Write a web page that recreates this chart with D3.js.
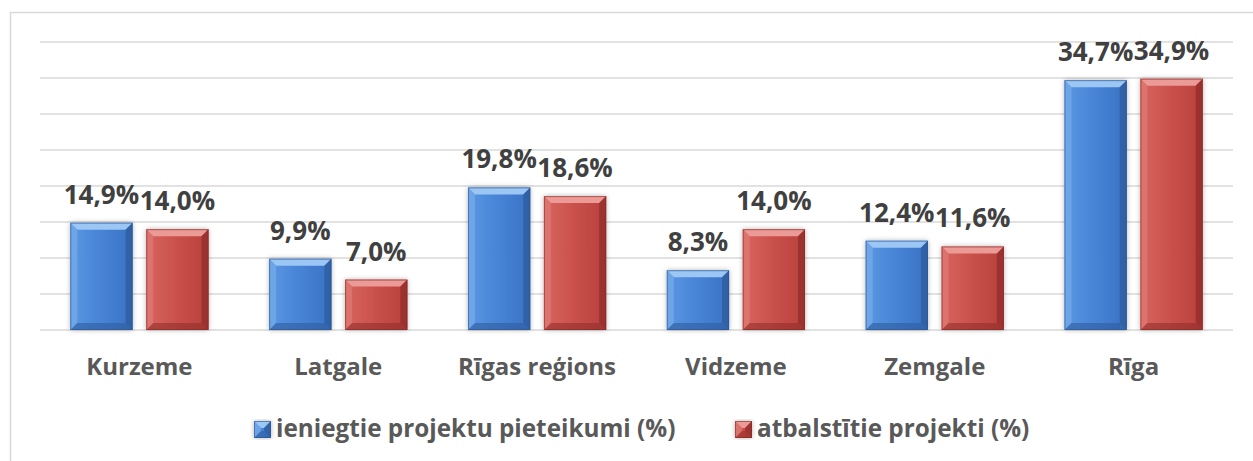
<!DOCTYPE html>
<html><head><meta charset="utf-8">
<script src="https://cdn.jsdelivr.net/npm/d3@7"></script>
<style>
html,body{margin:0;padding:0;background:#fff;}
svg{display:block;font-family:"Open Sans",sans-serif;}
</style></head>
<body><svg id="chart" width="1253" height="461"></svg>
<script>
const categories = ["Kurzeme","Latgale","Rīgas reģions","Vidzeme","Zemgale","Rīga"];
const seriesNames = ["ieniegtie projektu pieteikumi (%)","atbalstītie projekti (%)"];
const submitted = [14.9, 9.9, 19.8, 8.3, 12.4, 34.7];
const supported = [14.0, 7.0, 18.6, 14.0, 11.6, 34.9];
const yTicks = [0,5,10,15,20,25,30,35,40];

const svg = d3.select("#chart");
const defs = svg.append("defs");
const palettes = [
  {id:"b", main:["#5a97e2","#4783d6","#3a72c2"], top:"#9cc6f4", left:"#78acea", right:"#2c5a9a", bottom:"#2e5e9e", edge:"#2a5590"},
  {id:"r", main:["#d86560","#c9504b","#b8403c"], top:"#ec9a96", left:"#de7a75", right:"#8e2c29", bottom:"#932e2b", edge:"#852a27"}
];
palettes.forEach(p=>{
  const g = defs.append("linearGradient").attr("id","g"+p.id).attr("x1",0).attr("x2",1).attr("y1",0).attr("y2",0);
  g.append("stop").attr("offset","0%").attr("stop-color",p.main[0]);
  g.append("stop").attr("offset","50%").attr("stop-color",p.main[1]);
  g.append("stop").attr("offset","100%").attr("stop-color",p.main[2]);
});
const f = defs.append("filter").attr("id","sh").attr("x","-20%").attr("y","-10%").attr("width","140%").attr("height","120%");
f.append("feDropShadow").attr("dx",0).attr("dy",0).attr("stdDeviation",2.5).attr("flood-color","#000").attr("flood-opacity",0.3);

// outer border
svg.append("path").attr("d","M10.5,470 L10.5,12.5 L1260,12.5").attr("fill","none").attr("stroke","#d9d9d9").attr("stroke-width",1.5);

const x = d3.scaleBand().domain(categories).range([40,1233]).paddingInner(0.305).paddingOuter(0.1525);
const y = d3.scaleLinear().domain([0,40]).range([330,42]);
const xs = d3.scaleBand().domain([0,1]).range([0,x.bandwidth()]).paddingInner(0.18);

// gridlines
svg.append("g").selectAll("line").data(yTicks).join("line")
  .attr("x1",40).attr("x2",1233).attr("y1",d=>y(d)).attr("y2",d=>y(d))
  .attr("stroke","#d9d9d9").attr("stroke-width",1.5);

// x axis labels
svg.append("g").selectAll("text").data(categories).join("text")
  .attr("x",d=>x(d)+x.bandwidth()/2).attr("y",375)
  .attr("text-anchor","middle").attr("font-size",24).attr("font-weight",700).attr("fill","#595959")
  .text(d=>d);

function bevelBar(g, x0, y0, w, h, p){
  const b = Math.min(7, h/2);
  g.append("rect").attr("x",x0).attr("y",y0).attr("width",w).attr("height",h).attr("fill","url(#g"+p.id+")").attr("filter","url(#sh)");
  g.append("polygon").attr("points",[[x0,y0],[x0+w,y0],[x0+w-b,y0+b],[x0+b,y0+b]].join(" ")).attr("fill",p.top);
  g.append("polygon").attr("points",[[x0,y0],[x0+b,y0+b],[x0+b,y0+h-b],[x0,y0+h]].join(" ")).attr("fill",p.left).attr("opacity",0.7);
  g.append("polygon").attr("points",[[x0+w,y0],[x0+w-b,y0+b],[x0+w-b,y0+h-b],[x0+w,y0+h]].join(" ")).attr("fill",p.right).attr("opacity",0.7);
  g.append("polygon").attr("points",[[x0,y0+h],[x0+b,y0+h-b],[x0+w-b,y0+h-b],[x0+w,y0+h]].join(" ")).attr("fill",p.bottom).attr("opacity",0.6);
  g.append("rect").attr("x",x0+0.5).attr("y",y0+0.5).attr("width",w-1).attr("height",h-1).attr("fill","none").attr("stroke",p.edge).attr("stroke-opacity",0.6).attr("stroke-width",1);
}

const series = [submitted, supported];
const barsG = svg.append("g");
series.forEach((vals,si)=>{
  vals.forEach((v,i)=>{
    const bx = x(categories[i]) + xs(si);
    const g = barsG.append("g");
    bevelBar(g, bx, y(v), xs.bandwidth(), y(0)-y(v), palettes[si]);
  });
});
const fmt = v => v.toFixed(1).replace(".",",")+"%";
series.forEach((vals,si)=>{
  svg.append("g").selectAll("text").data(vals).join("text")
    .attr("x",(d,i)=>x(categories[i])+xs(si)+xs.bandwidth()/2)
    .attr("y",d=>y(d)-19)
    .attr("text-anchor","middle").attr("font-size",26).attr("font-weight",700).attr("fill","#404040")
    .text(fmt);
});

// legend
const legendX = [254, 735];
seriesNames.forEach((name,si)=>{
  const g = svg.append("g");
  bevelBar(g, legendX[si], 421, 17, 17, Object.assign({},palettes[si]));
  g.append("text").attr("x",legendX[si]+22).attr("y",437).attr("font-size",24.3).attr("font-weight",700).attr("fill","#595959").text(name);
});
</script></body></html>
